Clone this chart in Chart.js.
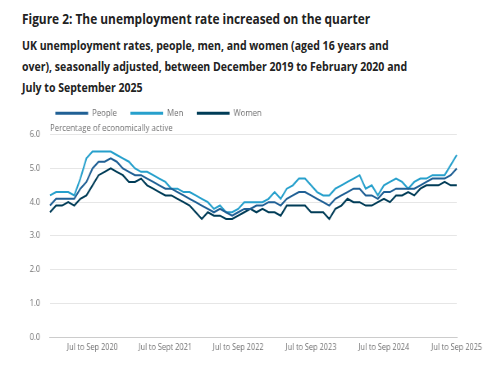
<!DOCTYPE html>
<html>
<head>
<meta charset="utf-8">
<script src="https://cdn.jsdelivr.net/npm/chart.js@4.4.1/dist/chart.umd.min.js"></script>
<style>
  html, body { margin: 0; padding: 0; background: #fff; }
  body { width: 500px; height: 368px; position: relative; overflow: hidden; font-family: "Open Sans", sans-serif; color: #222; }
  .hd { position: absolute; left: 22px; font-weight: 700; white-space: nowrap; transform: scaleX(0.82); transform-origin: 0 0; }
  #fig { top: 9px; font-size: 14.5px; line-height: 20px; }
  #sub { top: 35px; font-size: 12.85px; line-height: 21px; }
  #wrap { position: absolute; left: 0; top: 92px; width: 610px; height: 276px; transform: scaleX(0.82); transform-origin: 0 0; }
</style>
</head>
<body>
<div class="hd" id="fig">Figure 2: The unemployment rate increased on the quarter</div>
<div class="hd" id="sub">UK unemployment rates, people, men, and women (aged 16 years and<br>over), seasonally adjusted, between December 2019 to February 2020 and<br>July to September 2025</div>
<div id="wrap"><canvas id="chart" width="610" height="276"></canvas></div>
<script>
// rolling three-month periods, Dec to Feb 2020 ... Jul to Sep 2025
var months = ["Jan", "Feb", "Mar", "Apr", "May", "Jun", "Jul", "Aug", "Sep", "Oct", "Nov", "Dec"];
var categories = [];
for (var k = 0; k < 68; k++) {
  var e = 1 + k;
  categories.push(months[(e + 10) % 12] + " to " + months[e % 12] + " " + (2020 + Math.floor(e / 12)));
}

var tickLabels = ["Jul to Sep 2020", "Jul to Sept 2021", "Jul to Sep 2022", "Jul to Sep 2023", "Jul to Sep 2024", "Jul to Sep 2025"];

var people = [3.9, 4.1, 4.1, 4.1, 4.1, 4.4, 4.6, 5.0, 5.2, 5.2, 5.3, 5.2, 5.0, 4.9, 4.8, 4.8, 4.7, 4.6, 4.5, 4.4,
  4.4, 4.3, 4.2, 4.1, 4.0, 3.9, 3.8, 3.7, 3.8, 3.7, 3.6, 3.7, 3.8, 3.8, 3.9, 3.9, 4.0, 4.0, 3.9, 4.1,
  4.2, 4.3, 4.3, 4.2, 4.1, 4.0, 3.9, 4.1, 4.2, 4.3, 4.4, 4.4, 4.2, 4.2, 4.1, 4.3, 4.3, 4.4, 4.4, 4.4,
  4.4, 4.5, 4.6, 4.7, 4.7, 4.7, 4.8, 5.0];
var men = [4.2, 4.3, 4.3, 4.3, 4.2, 4.7, 5.3, 5.5, 5.5, 5.5, 5.5, 5.4, 5.3, 5.2, 5.0, 4.9, 4.9, 4.8, 4.7, 4.6,
  4.4, 4.4, 4.3, 4.3, 4.2, 4.1, 4.0, 3.8, 3.9, 3.7, 3.7, 3.8, 4.0, 4.0, 4.0, 4.0, 4.1, 4.3, 4.1, 4.4,
  4.5, 4.7, 4.7, 4.5, 4.3, 4.2, 4.2, 4.4, 4.5, 4.6, 4.7, 4.8, 4.4, 4.5, 4.2, 4.5, 4.6, 4.7, 4.6, 4.4,
  4.6, 4.7, 4.7, 4.8, 4.8, 4.8, 5.1, 5.4];
var women = [3.7, 3.9, 3.9, 4.0, 3.9, 4.1, 4.2, 4.5, 4.8, 4.9, 5.0, 4.9, 4.8, 4.6, 4.6, 4.7, 4.5, 4.4, 4.3, 4.2,
  4.2, 4.1, 4.0, 3.9, 3.7, 3.5, 3.7, 3.6, 3.6, 3.5, 3.5, 3.6, 3.7, 3.8, 3.7, 3.8, 3.7, 3.7, 3.6, 3.9,
  3.9, 3.9, 3.9, 3.7, 3.7, 3.7, 3.5, 3.8, 3.9, 4.1, 4.0, 4.0, 3.9, 3.9, 4.0, 4.1, 4.0, 4.2, 4.2, 4.3,
  4.2, 4.4, 4.5, 4.5, 4.5, 4.6, 4.5, 4.5];

var greyText = "#707071";

function isLabelTick(i) {
  return categories[i] && categories[i].indexOf("Jul to Sep") === 0;
}

// nudge the legend left so it sits near the start of the plot
var legendShift = {
  id: "legendShift",
  afterLayout: function (chart) {
    chart.legend.left -= 10;
  }
};

var ctx = document.getElementById("chart");

var chart = new Chart(ctx, {
  type: "line",
  data: {
    labels: categories,
    datasets: [
      { label: "People", data: people, borderColor: "#206095", backgroundColor: "#206095" },
      { label: "Men", data: men, borderColor: "#27a0cc", backgroundColor: "#27a0cc" },
      { label: "Women", data: women, borderColor: "#003c57", backgroundColor: "#003c57" }
    ]
  },
  options: {
    responsive: false,
    animation: false,
    devicePixelRatio: 1,
    layout: { padding: { left: 24.3, right: 53, top: 0, bottom: 15.2 } },
    elements: {
      line: { borderWidth: 2, tension: 0 },
      point: { radius: 0 }
    },
    plugins: {
      tooltip: { enabled: false },
      legend: {
        display: true,
        position: "top",
        align: "start",
        fullSize: false,
        labels: {
          usePointStyle: true,
          pointStyle: "line",
          pointStyleWidth: 40,
          padding: 16.5,
          color: greyText,
          font: { family: "Open Sans", size: 9.5 },
          generateLabels: function (c) {
            var items = Chart.defaults.plugins.legend.labels.generateLabels(c);
            items.forEach(function (it) { it.lineWidth = 3; });
            return items;
          }
        }
      },
      subtitle: {
        display: true,
        text: "Percentage of economically active",
        position: "top",
        align: "start",
        fullSize: false,
        weight: 500,
        color: greyText,
        font: { family: "Open Sans", size: 9.5, weight: "normal", lineHeight: 1 },
        padding: { top: -4.5, bottom: 1.75 }
      }
    },
    scales: {
      x: {
        type: "category",
        offset: false,
        grid: {
          drawOnChartArea: false,
          drawTicks: true,
          tickLength: 5,
          tickColor: function (c) { return isLabelTick(c.index) ? "#cccccc" : "rgba(0,0,0,0)"; }
        },
        border: { color: "#cccccc" },
        ticks: {
          autoSkip: false,
          maxRotation: 0,
          padding: 0,
          color: greyText,
          font: { family: "Open Sans", size: 9 },
          callback: function (v, i) {
            if (!isLabelTick(i)) return null;
            return tickLabels[Math.floor((i - 7) / 12)];
          }
        }
      },
      y: {
        min: 0,
        max: 6,
        grid: { color: "#e6e6e6", drawTicks: false },
        border: { display: false },
        ticks: {
          stepSize: 1,
          padding: 12,
          color: greyText,
          font: { family: "Open Sans", size: 9 },
          callback: function (v) { return v.toFixed(1); }
        }
      }
    }
  },
  plugins: [legendShift]
});
</script>
</body>
</html>
